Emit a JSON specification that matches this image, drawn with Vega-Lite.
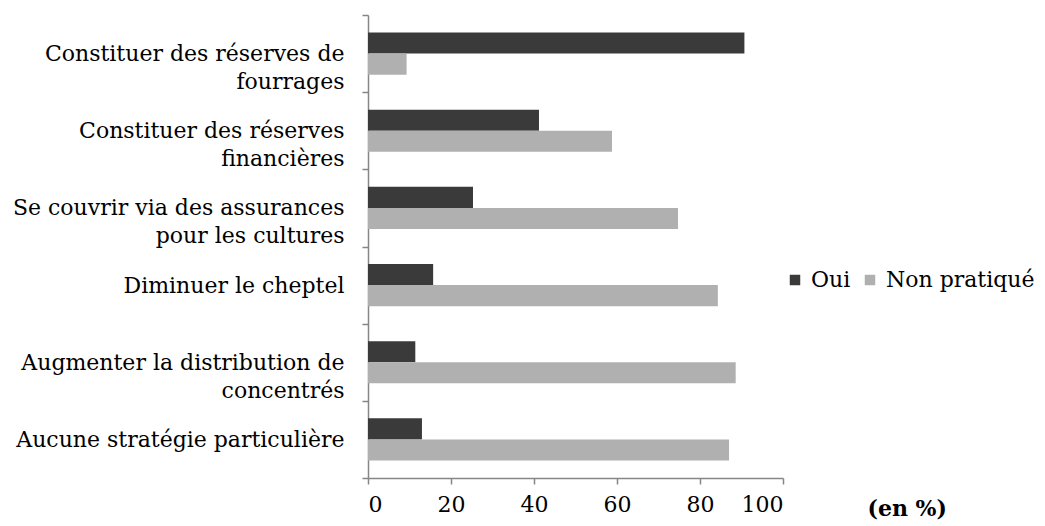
{
  "$schema": "https://vega.github.io/schema/vega-lite/v6.json",
  "autosize": "none",
  "width": 415,
  "height": 463,
  "padding": {"left": 368, "top": 15, "right": 262, "bottom": 48},
  "background": "white",
  "data": {
    "values": [
      {"strategie": "Constituer des réserves de\nfourrages", "reponse": "Oui", "pct": 90.7},
      {"strategie": "Constituer des réserves de\nfourrages", "reponse": "Non pratiqué", "pct": 9.3},
      {"strategie": "Constituer des réserves\nfinancières", "reponse": "Oui", "pct": 41.2},
      {"strategie": "Constituer des réserves\nfinancières", "reponse": "Non pratiqué", "pct": 58.8},
      {"strategie": "Se couvrir via des assurances\npour les cultures", "reponse": "Oui", "pct": 25.3},
      {"strategie": "Se couvrir via des assurances\npour les cultures", "reponse": "Non pratiqué", "pct": 74.7},
      {"strategie": "Diminuer le cheptel", "reponse": "Oui", "pct": 15.7},
      {"strategie": "Diminuer le cheptel", "reponse": "Non pratiqué", "pct": 84.3},
      {"strategie": "Augmenter la distribution de\nconcentrés", "reponse": "Oui", "pct": 11.4},
      {"strategie": "Augmenter la distribution de\nconcentrés", "reponse": "Non pratiqué", "pct": 88.6},
      {"strategie": "Aucune stratégie particulière", "reponse": "Oui", "pct": 13.0},
      {"strategie": "Aucune stratégie particulière", "reponse": "Non pratiqué", "pct": 87.0}
    ]
  },
  "mark": {"type": "bar"},
  "encoding": {
    "y": {
      "field": "strategie",
      "type": "nominal",
      "sort": null,
      "scale": {"paddingInner": 0, "paddingOuter": 0},
      "axis": {
        "title": null,
        "labelExpr": "split(datum.label, '\\n')",
        "labelFont": "DejaVu Serif",
        "labelFontSize": 22,
        "labelLineHeight": 28,
        "labelColor": "black",
        "labelAlign": "right",
        "labelPadding": 18,
        "labelLimit": 400,
        "tickBand": "extent",
        "tickSize": 6,
        "tickColor": "#868686",
        "domainColor": "#868686",
        "domainWidth": 1.5,
        "tickWidth": 1.5,
        "encode": {
          "labels": {
            "dy": {"value": {"expr": "indexof(datum.value, '\\n') >= 0 ? -13 : 0"}},
            "align": {"value": {"expr": "indexof(datum.value, '\\n') >= 0 ? 'center' : 'right'"}},
            "dx": {"value": {"expr": "indexof(datum.value, 'Constituer des réserves de') == 0 ? -150 : indexof(datum.value, 'financières') >= 0 ? -132 : indexof(datum.value, 'Se couvrir') == 0 ? -166 : indexof(datum.value, 'Augmenter') == 0 ? -162 : 0"}}
          }
        }
      }
    },
    "yOffset": {
      "field": "reponse",
      "type": "nominal",
      "sort": ["Oui", "Non pratiqué"],
      "scale": {"paddingOuter": 0.83, "paddingInner": 0}
    },
    "x": {
      "field": "pct",
      "type": "quantitative",
      "scale": {"domain": [0, 100], "nice": false},
      "axis": {
        "title": "(en %)",
        "titleFont": "DejaVu Serif",
        "titleFontSize": 22,
        "titleFontWeight": "bold",
        "titleColor": "black",
        "titleAnchor": "start",
        "titleAlign": "left",
        "titleX": 499,
        "titleY": 30,
        "titleBaseline": "middle",
        "values": [0, 20, 40, 60, 80, 100],
        "grid": false,
        "labelFont": "DejaVu Serif",
        "labelFontSize": 22,
        "labelColor": "black",
        "labelPadding": 10,
        "tickSize": 6,
        "tickColor": "#868686",
        "domainColor": "#868686",
        "domainWidth": 1.5,
        "tickWidth": 1.5
      }
    },
    "color": {
      "field": "reponse",
      "type": "nominal",
      "sort": ["Oui", "Non pratiqué"],
      "scale": {"domain": ["Oui", "Non pratiqué"], "range": ["#3a3a3a", "#b0b0b0"]},
      "legend": {
        "title": null,
        "orient": "none",
        "direction": "horizontal",
        "legendX": 416,
        "legendY": 254,
        "symbolType": "square",
        "symbolSize": 110,
        "symbolStrokeWidth": 0,
        "labelFont": "DejaVu Serif",
        "labelFontSize": 22,
        "labelColor": "black",
        "labelOffset": 5,
        "columnPadding": 8
      }
    }
  },
  "config": {"view": {"stroke": null}}
}
